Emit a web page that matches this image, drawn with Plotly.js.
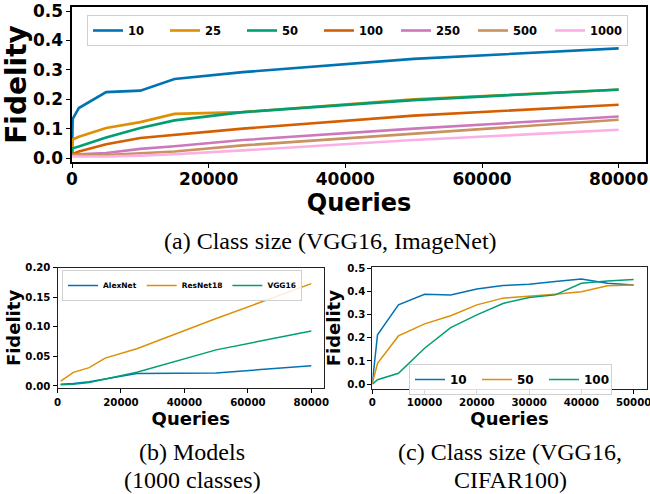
<!DOCTYPE html>
<html>
<head>
<meta charset="utf-8">
<script src="https://cdn.plot.ly/plotly-3.0.1.min.js"></script>
<style>html,body{margin:0;padding:0;background:#fff;overflow:hidden}#chart{width:650px;height:494px}</style>
</head>
<body>
<div id="chart"></div>
<script>
// ---- Data (a) Class size (VGG16, ImageNet) ----
const queriesA = [0, 100, 1000, 5000, 10000, 15000, 25000, 50000, 80000];
const classNamesA = ['10', '25', '50', '100', '250', '500', '1000'];
const fid10 = [0.017, 0.133, 0.170, 0.224, 0.229, 0.269, 0.292, 0.337, 0.373];
const fid25 = [0.035, 0.063, 0.072, 0.102, 0.122, 0.150, 0.156, 0.200, 0.232];
const fid50 = [0.015, 0.033, 0.039, 0.070, 0.102, 0.128, 0.156, 0.197, 0.233];
const fid100 = [0.008, 0.014, 0.022, 0.047, 0.068, 0.079, 0.100, 0.144, 0.181];
const fid250 = [0.008, 0.011, 0.013, 0.017, 0.031, 0.040, 0.061, 0.100, 0.141];
const fid500 = [0.007, 0.009, 0.010, 0.010, 0.016, 0.022, 0.043, 0.083, 0.130];
const fid1000 = [0.005, 0.006, 0.005, 0.005, 0.008, 0.013, 0.026, 0.061, 0.096];

// ---- Data (b) Models (1000 classes) ----
const queriesB = [1000, 5000, 10000, 15000, 25000, 50000, 80000];
const modelNames = ['AlexNet', 'ResNet18', 'VGG16'];
const fidAlexNet = [0.003, 0.004, 0.007, 0.012, 0.021, 0.022, 0.034];
const fidResNet18 = [0.008, 0.023, 0.031, 0.047, 0.063, 0.114, 0.173];
const fidVGG16 = [0.002, 0.003, 0.006, 0.012, 0.023, 0.061, 0.093];

// ---- Data (c) Class size (VGG16, CIFAR100) ----
const queriesC = [0, 1000, 5000, 10000, 15000, 20000, 25000, 30000, 35000, 40000, 45000, 50000];
const classNamesC = ['10', '50', '100'];
const cif10 = [0.004, 0.213, 0.342, 0.388, 0.385, 0.410, 0.425, 0.431, 0.443, 0.454, 0.435, 0.428];
const cif50 = [0.004, 0.090, 0.208, 0.260, 0.295, 0.342, 0.371, 0.378, 0.388, 0.399, 0.424, 0.428];
const cif100 = [0.000, 0.019, 0.047, 0.155, 0.244, 0.299, 0.348, 0.374, 0.385, 0.435, 0.445, 0.451];

// ---- Tick labels ----
const ticksA_x = [0, 20000, 40000, 60000, 80000];
const ticksA_y = [0, 0.1, 0.2, 0.3, 0.4, 0.5];
const ticksB_y = [0, 0.05, 0.10, 0.15, 0.20];
const ticksC_x = [0, 10000, 20000, 30000, 40000, 50000];

const palette = ['#0173b2', '#de8f05', '#029e73', '#d55e00', '#cc78bc', '#ca9161', '#fbafe4'];
const FONT = 'DejaVu Sans, Verdana, sans-serif';
const SERIF = 'Liberation Serif, Times New Roman, serif';

const seriesA = [fid10, fid25, fid50, fid100, fid250, fid500, fid1000];
const seriesB = [fidAlexNet, fidResNet18, fidVGG16];
const seriesC = [cif10, cif50, cif100];

const traces = [];
seriesA.forEach((ys, i) => traces.push({
  x: queriesA, y: ys, name: classNamesA[i], type: 'scatter', mode: 'lines',
  line: {color: palette[i], width: 2.6}, xaxis: 'x', yaxis: 'y', legend: 'legend'
}));
seriesB.forEach((ys, i) => traces.push({
  x: queriesB, y: ys, name: modelNames[i], type: 'scatter', mode: 'lines',
  line: {color: palette[i], width: 1.5}, xaxis: 'x2', yaxis: 'y2', legend: 'legend2'
}));
seriesC.forEach((ys, i) => traces.push({
  x: queriesC, y: ys, name: classNamesC[i], type: 'scatter', mode: 'lines',
  line: {color: palette[i], width: 1.5}, xaxis: 'x3', yaxis: 'y3', legend: 'legend3'
}));

function axis(extra) {
  return Object.assign({
    showgrid: false, zeroline: false, showline: true, mirror: true,
    linecolor: '#000', ticks: 'outside', ticklen: 4, tickcolor: '#000',
    automargin: false, ticklabeloverflow: 'allow'
  }, extra);
}

const W = 650, H = 494;
const px = v => v / W, py = v => (H - v) / H;
const SMALL = 10.2;

const layout = {
  width: W, height: H,
  margin: {l: 0, r: 0, t: 0, b: 0},
  paper_bgcolor: '#fff', plot_bgcolor: '#fff',
  font: {family: FONT, color: '#000'},
  showlegend: true,
  xaxis: axis({
    domain: [px(72), px(646)], range: [0, 84000], anchor: 'y',
    tickvals: ticksA_x, ticktext: ticksA_x.map(String), linewidth: 1.6,
    tickfont: {size: 17, family: FONT, weight: 'bold'}, ticklabelstandoff: -3,
    title: {text: 'Queries', font: {size: 24, family: FONT, weight: 'bold'}, standoff: 0}
  }),
  yaxis: axis({
    domain: [py(162), py(7)], range: [-0.0136, 0.5136], anchor: 'x',
    tickvals: ticksA_y, ticktext: ticksA_y.map(v => v.toFixed(1)), linewidth: 1.6,
    tickfont: {size: 17, family: FONT, weight: 'bold'},
    title: {text: 'Fidelity', font: {size: 28, family: FONT, weight: 'bold'}, standoff: 0}
  }),
  xaxis2: axis({
    domain: [px(57.5), px(324)], range: [0, 84000], anchor: 'y2',
    tickvals: ticksA_x, ticktext: ticksA_x.map(String), linewidth: 1, linecolor: '#222',
    tickfont: {size: SMALL, family: FONT, weight: 'bold'},
    title: {text: 'Queries', font: {size: 18, family: FONT, weight: 'bold'}, standoff: 2}
  }),
  yaxis2: axis({
    domain: [py(388.3), py(267.7)], range: [-0.004, 0.2], anchor: 'x2',
    tickvals: ticksB_y, ticktext: ticksB_y.map(v => v.toFixed(2)), linewidth: 1, linecolor: '#222',
    tickfont: {size: SMALL, family: FONT, weight: 'bold'},
    title: {text: 'Fidelity', font: {size: 18, family: FONT, weight: 'bold'}, standoff: 0}
  }),
  xaxis3: axis({
    domain: [px(372.3), px(646.7)], range: [0, 52500], anchor: 'y3',
    tickvals: ticksC_x, ticktext: ticksC_x.map(String), linewidth: 1, linecolor: '#222',
    tickfont: {size: SMALL, family: FONT, weight: 'bold'},
    title: {text: 'Queries', font: {size: 18, family: FONT, weight: 'bold'}, standoff: 2}
  }),
  yaxis3: axis({
    domain: [py(389), py(267.3)], range: [-0.021, 0.504], anchor: 'x3',
    tickvals: ticksA_y, ticktext: ticksA_y.map(v => v.toFixed(1)), linewidth: 1, linecolor: '#222',
    tickfont: {size: SMALL, family: FONT, weight: 'bold'},
    title: {text: 'Fidelity', font: {size: 18, family: FONT, weight: 'bold'}, standoff: 1}
  }),
  legend: {
    orientation: 'h', x: px(87), y: py(15), xanchor: 'left', yanchor: 'top',
    bgcolor: 'rgba(255,255,255,0.85)', bordercolor: '#d0d0d0', borderwidth: 1,
    font: {size: 11.5, family: FONT, weight: 'bold'}, entrywidth: 32, entrywidthmode: 'pixels'
  },
  legend2: {
    orientation: 'h', x: px(62), y: py(270), xanchor: 'left', yanchor: 'top',
    bgcolor: 'rgba(255,255,255,0.85)', bordercolor: '#d0d0d0', borderwidth: 1,
    font: {size: 7.5, family: FONT, weight: 'bold'}
  },
  legend3: {
    orientation: 'h', x: px(409), y: py(364), xanchor: 'left', yanchor: 'top',
    bgcolor: 'rgba(255,255,255,0.85)', bordercolor: '#d0d0d0', borderwidth: 1,
    font: {size: 12, family: FONT, weight: 'bold'}, entrywidth: 22, entrywidthmode: 'pixels'
  },
  annotations: [
    {text: '(a) Class size (VGG16, ImageNet)', x: px(330), y: py(241), xref: 'paper', yref: 'paper',
     showarrow: false, xanchor: 'center', yanchor: 'middle', font: {family: SERIF, size: 24}},
    {text: '(b) Models', x: px(192), y: py(452), xref: 'paper', yref: 'paper',
     showarrow: false, xanchor: 'center', yanchor: 'middle', font: {family: SERIF, size: 24}},
    {text: '(1000 classes)', x: px(192), y: py(480), xref: 'paper', yref: 'paper',
     showarrow: false, xanchor: 'center', yanchor: 'middle', font: {family: SERIF, size: 24}},
    {text: '(c) Class size (VGG16,', x: px(510), y: py(452), xref: 'paper', yref: 'paper',
     showarrow: false, xanchor: 'center', yanchor: 'middle', font: {family: SERIF, size: 24}},
    {text: 'CIFAR100)', x: px(510), y: py(480), xref: 'paper', yref: 'paper',
     showarrow: false, xanchor: 'center', yanchor: 'middle', font: {family: SERIF, size: 24}}
  ]
};

Plotly.newPlot('chart', traces, layout, {staticPlot: true, displayModeBar: false});
</script>
</body>
</html>
